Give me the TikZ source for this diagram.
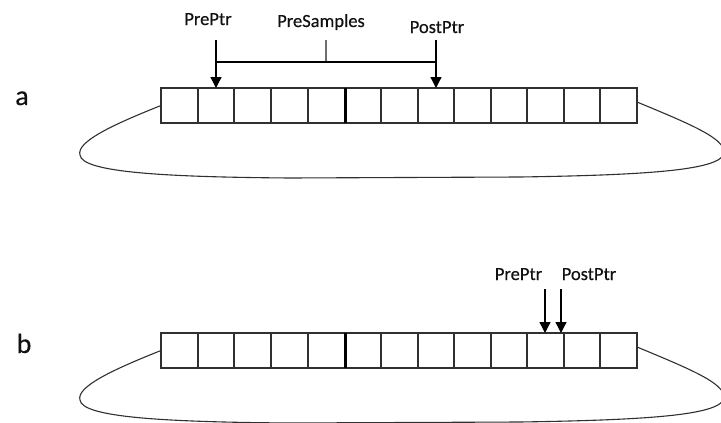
\documentclass[tikz,border=0pt]{standalone}
\usepackage{fontspec}
\setmainfont{Carlito}
\newfontfamily\lblfont{Carlito}[FakeBold=0.4]
\usetikzlibrary{arrows.meta,calc}
\definecolor{ink}{HTML}{111111}
\definecolor{wire}{HTML}{303030}
\definecolor{tick}{HTML}{6E6E6E}
\tikzset{
  cell/.style={draw=none, minimum height=35pt,
    inner sep=0pt, outer sep=0pt, anchor=north west},
  frame/.style={draw=wire, line width=1.4pt},
  divider/.style={draw=wire, line width=1.4pt},
  heavydivider/.style={draw=black, line width=3pt},
  lbl/.style={text=ink, font=\lblfont\fontsize{18.5}{22}\selectfont, anchor=base, inner sep=0pt},
  rowlbl/.style={text=ink, font=\lblfont\fontsize{28}{32}\selectfont, anchor=base, inner sep=0pt},
  ptr/.style={draw=black, line width=1.3pt, -{Triangle[width=11pt,length=11pt]}},
  loopline/.style={draw=wire, line width=1.1pt},
}
\begin{document}
\begin{tikzpicture}[x=1pt, y=-1pt]
\useasboundingbox (0,0) rectangle (721,423);

% ring buffer, state a (cell edges on whole points)
\foreach \i/\l/\r in {1/161/198,2/198/234,3/234/271,4/271/308,5/308/345,6/345/381,
    7/381/418,8/418/454,9/454/491,10/491/527,11/527/564,12/564/600,13/600/637} {
  \node[cell, minimum width={(\r-\l)*1pt}] (a\i) at (\l,88) {};
}
\foreach \i in {1,...,12} {
  \draw[divider] (a\i.north east) -- (a\i.south east);
}
\draw[frame] (a1.north west) rectangle (a13.south east);
\draw[heavydivider] (a5.north east) -- (a5.south east);
\draw[loopline] (a1.west) .. controls (112,125) and (76,142) .. (80,155)
  .. controls (82,172) and (160,177) .. (290,178) -- (520,177)
  .. controls (650,175) and (724,170) .. (724,152)
  .. controls (724,138) and (690,124) .. (a13.east |- 0,102);

\node[rowlbl] (la) at (22,105) {a};
\node[lbl] (preA) at (208,25) {PrePtr};
\node[lbl] (samples) at (321,27) {PreSamples};
\node[lbl] (postA) at (437,33) {PostPtr};

\coordinate (preAtop) at (a2.north |- 0,40);
\coordinate (postAtop) at (a8.north |- 0,40);
\coordinate (brL) at (a2.north |- 0,62);
\coordinate (brR) at (a8.north |- 0,62);
\coordinate (brM) at ($(brL)!0.5!(brR)$);
\draw[tick, line width=2.6pt] (brM |- 0,40) -- (brM);
\draw[ptr] (preAtop) -- (a2.north);
\draw[ptr] (postAtop) -- (a8.north);
\draw[black, line width=1.3pt] (brL) -- (brR);

% ring buffer, state b
\begin{scope}[yshift=-245pt]
\foreach \i/\l/\r in {1/161/198,2/198/234,3/234/271,4/271/308,5/308/345,6/345/381,
    7/381/418,8/418/454,9/454/491,10/491/527,11/527/564,12/564/600,13/600/637} {
  \node[cell, minimum width={(\r-\l)*1pt}] (b\i) at (\l,88) {};
}
\foreach \i in {1,...,12} {
  \draw[divider] (b\i.north east) -- (b\i.south east);
}
\draw[frame] (b1.north west) rectangle (b13.south east);
\draw[heavydivider] (b5.north east) -- (b5.south east);
\draw[loopline] (b1.west) .. controls (112,125) and (76,142) .. (80,155)
  .. controls (82,172) and (160,177) .. (290,178) -- (520,177)
  .. controls (650,175) and (724,170) .. (724,152)
  .. controls (724,138) and (690,124) .. (b13.east |- 0,102);
\end{scope}

\node[rowlbl] (lb) at (24,353) {b};
\node[lbl] (preB) at (518.5,280) {PrePtr};
\node[lbl] (postB) at (589,280) {PostPtr};
\coordinate (preBend) at (545,333);
\coordinate (postBend) at (561,333);
\draw[ptr] (preBend |- 0,289) -- (preBend);
\draw[ptr] (postBend |- 0,289) -- (postBend);
\end{tikzpicture}
\end{document}
